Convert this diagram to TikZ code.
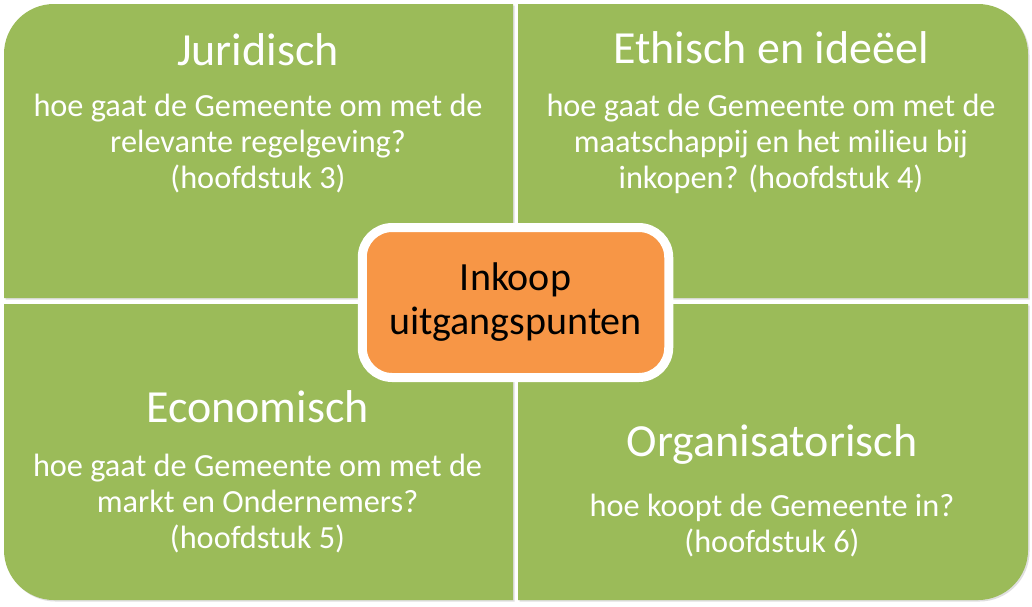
\documentclass[tikz,border=0pt]{standalone}
\usepackage{fontspec}
\setmainfont{Carlito}
\usetikzlibrary{shadows}
\definecolor{quadgreen}{RGB}{155,187,89}
\definecolor{huborange}{RGB}{247,150,70}
\begin{document}
\begin{tikzpicture}[x=1pt,y=-1pt,
  quad/.style={fill=quadgreen,drop shadow={opacity=0.25,shadow xshift=1.5pt,shadow yshift=-1.5pt}},
  titletext/.style={text=white,font=\fontsize{46}{50}\selectfont,anchor=base,inner sep=0pt},
  bodytext/.style={text=white,font=\fontsize{32.3}{36}\selectfont,anchor=base,inner sep=0pt,align=center},
  hub/.style={fill=huborange,draw=white,line width=9pt,rounded corners=30pt,
    minimum width=306.5pt,minimum height=150pt,inner sep=0pt,align=center,
    font=\fontsize{40}{44}\selectfont,text=black,
    drop shadow={opacity=0.4,shadow xshift=1pt,shadow yshift=-3pt}}]
\useasboundingbox (0,0) rectangle (1032,606);
\fill[white] (0,0) rectangle (1032,606);
% quadrants
\fill[quad] (4,298) -- (4,54) .. controls (4,26.4) and (26.4,4) .. (54,4) -- (513,4) -- (513,298) -- cycle;
\fill[quad] (518,4) -- (978,4) .. controls (1005.6,4) and (1028,26.4) .. (1028,54) -- (1028,298) -- (518,298) -- cycle;
\fill[quad] (4,304) -- (513,304) -- (513,600) -- (54,600) .. controls (26.4,600) and (4,577.6) .. (4,550) -- cycle;
\fill[quad] (518,304) -- (1028,304) -- (1028,550) .. controls (1028,577.6) and (1005.6,600) .. (978,600) -- (518,600) -- cycle;
% texts (body nodes anchored at the baseline of their last line)
\node[titletext] (t1) at (258,65) {Juridisch};
\node[bodytext] (b1) at (258,188.5) {hoe gaat de Gemeente om met de\\relevante regelgeving?\\(hoofdstuk 3)};
\node[titletext] (t2) at (771,63.3) {Ethisch en ideëel};
\node[bodytext] (b2) at (771,188.5) {hoe gaat de Gemeente om met de\\maatschappij en het milieu bij\\inkopen? (hoofdstuk 4)};
\node[titletext] (t3) at (257.5,422.7) {Economisch};
\node[bodytext] (b3) at (257.5,548.5) {hoe gaat de Gemeente om met de\\markt en Ondernemers?\\(hoofdstuk 5)};
\node[titletext] (t4) at (772,456.7) {Organisatorisch};
\node[bodytext] (b4) at (772,552) {hoe koopt de Gemeente in?\\(hoofdstuk 6)};
% hub
\node[hub] (hub) at (515.5,302.5) {Inkoop\\uitgangspunten};
\end{tikzpicture}
\end{document}
